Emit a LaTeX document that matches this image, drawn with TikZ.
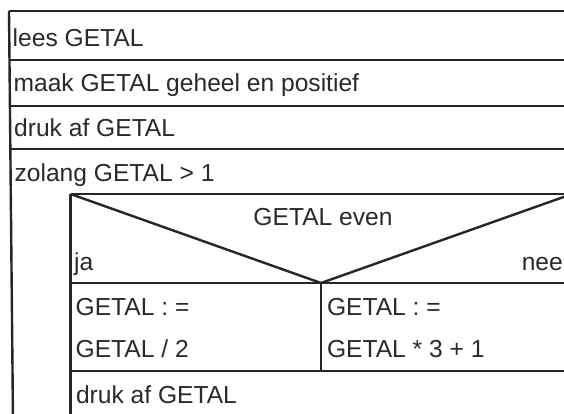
\documentclass[tikz,border=0pt]{standalone}
\usepackage{fontspec}
\setmainfont{Liberation Sans}
\definecolor{linegray}{HTML}{262626}
\definecolor{textgray}{HTML}{2A2A2A}
\begin{document}
\begin{tikzpicture}[x=1pt,y=-1pt,
  rule/.style={draw=linegray, line width=2.4pt},
  lbl/.style={anchor=base west, inner sep=0pt, text=textgray,
              font=\fontsize{24.6}{29}\selectfont}]
\useasboundingbox (0,0) rectangle (564,414);
\clip (0,0) rectangle (564,414);
\fill[white] (0,0) rectangle (564,414);

% outer structogram: sequence of statements
\coordinate (otl) at (9,11);
\coordinate (obl) at (13,420);
\draw[rule] (otl) -- (obl);
\draw[rule] (otl) -- (610,11);
\draw[rule] (9.2,60) -- (610,60);
\draw[rule] (9.9,106) -- (610,106);
\draw[rule] (10.4,149) -- (610,149);

\node[lbl] (s1) at (12.5,46.5) {lees GETAL};
\node[lbl] (s2) at (13.4,92) {maak GETAL geheel en positief};
\node[lbl] (s3) at (14,137) {druk af GETAL};
\node[lbl] (w1) at (14.4,182) {zolang GETAL > 1};

% body of the while loop
\coordinate (itl) at (70.5,194);
\coordinate (itr) at (572,194);
\coordinate (apex) at (321,283);
\coordinate (ibl) at (70.5,420);
\draw[rule] (itl) -- (610,194);
\draw[rule] (itl) -- (ibl);
\draw[rule] (itr) -- (itr |- ibl);

% decision: GETAL even
\draw[rule] (itl) -- (apex) -- (itr);
\draw[rule] (itl |- apex) -- (610,283);
\draw[rule] (apex) -- (321,371);
\draw[rule] (70.5,371) -- (610,371);

\node[lbl, anchor=base] (cond) at (323,225) {GETAL even};
\node[lbl] (yes) at (74,270) {ja};
\node[lbl, anchor=base east] (no) at (563,270) {nee};

\node[lbl] (a1) at (75.5,315) {GETAL : =};
\node[lbl] (a2) at (75.5,357) {GETAL / 2};
\node[lbl] (b1) at (326.8,315) {GETAL : =};
\node[lbl] (b2) at (326.8,357) {GETAL * 3 + 1};

\node[lbl] (s4) at (75.8,403) {druk af GETAL};
\end{tikzpicture}
\end{document}
